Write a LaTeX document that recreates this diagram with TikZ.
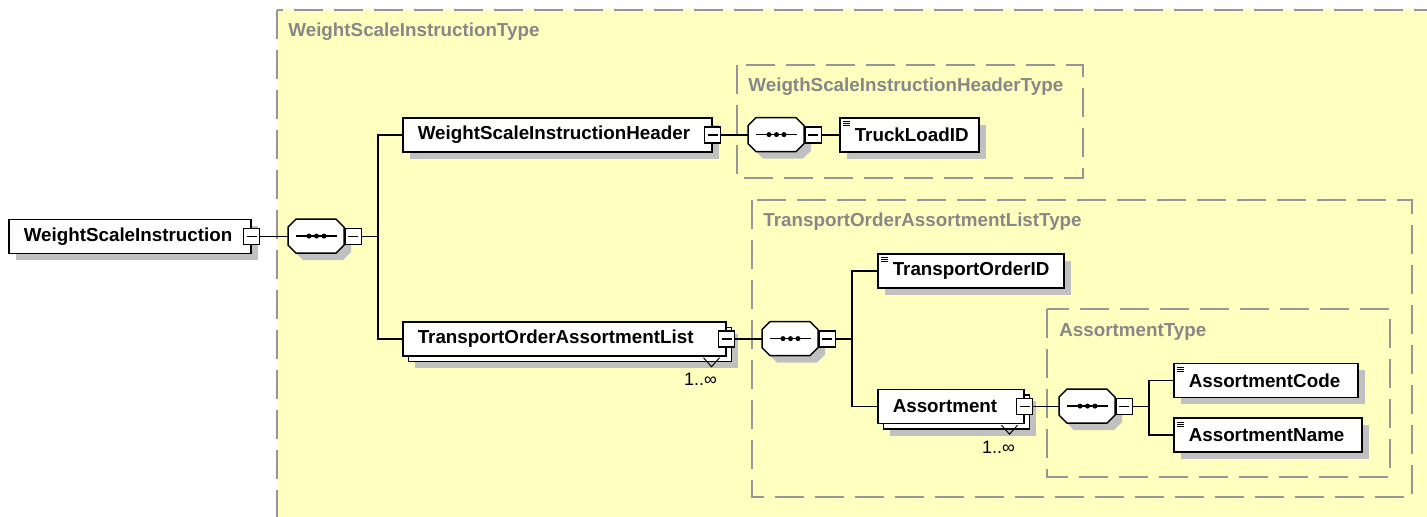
\documentclass[tikz,border=0pt]{standalone}
\usepackage{fontspec}
\setmainfont{Liberation Sans}
\usepackage{tikz}
\usetikzlibrary{calc,shadows}

\definecolor{xsdyellow}{RGB}{255,255,192}
\definecolor{xsdshadow}{RGB}{192,192,192}
\definecolor{xsdgroup}{RGB}{150,150,150}
\definecolor{xsdlabel}{RGB}{135,135,135}

\def\xsdfont{\fontsize{9.4}{11}\selectfont\bfseries}

\tikzset{
	elembase/.style={draw=black, fill=white, line width=0.75pt, anchor=west, minimum height=17pt, inner xsep=7.5pt, inner ysep=0pt, align=left, font=\xsdfont},
	elem/.style={elembase, general shadow={fill=xsdshadow, shadow xshift=3.5pt, shadow yshift=-3.5pt}},
	elemmulti/.style={elembase,
		general shadow={fill=xsdshadow, shadow xshift=6pt, shadow yshift=-6pt},
		general shadow={fill=white, draw=black, line width=0.75pt, shadow xshift=2.75pt, shadow yshift=-2.75pt}},
	leaf/.style={elem, path picture={
		\foreach \k in {4,6,8}
			\draw[line width=0.5pt] ($(path picture bounding box.north west)+(3,\k)$) -- ++(7,0);
	}},
	seq/.style={anchor=west, minimum width=28pt, minimum height=17pt, inner sep=0pt},
	minus/.style={draw=black, fill=white, line width=0.65pt, minimum size=8pt, inner sep=0pt, path picture={
		\draw[line width=0.6pt] ($(path picture bounding box.west)+(3,0)$) -- ($(path picture bounding box.east)+(-3,0)$);
	}},
	wire/.style={line width=0.65pt},
	group/.style={draw=xsdgroup, line width=0.65pt, dash pattern=on 14.5pt off 5.5pt},
	grouplabel/.style={anchor=west, text=xsdlabel, font=\xsdfont, inner sep=0pt},
	occ/.style={font=\fontsize{9}{11}\selectfont, inner sep=0pt}
}

% sequence compositor: octagon with its shadow, the dotted bar and the minus box
\def\seqbox(#1)(#2){
	\node[seq] (#1) at (#2) {};
	\begin{scope}[shift={(#1.north west)}]
		\fill[xsdshadow, shift={(7,7)}] (8,0) -- (48,0) -- (56,8) -- (56,26) -- (48,34) -- (8,34) -- (0,26) -- (0,8) -- cycle;
		\draw[line width=0.75pt, fill=white] (8,0) -- (48,0) -- (56,8) -- (56,26) -- (48,34) -- (8,34) -- (0,26) -- (0,8) -- cycle;
		\draw[line width=0.65pt] (8,17) -- (49,17);
		\foreach \d in {21,28.5,36}
			\fill (\d,17) circle (1.25pt);
	\end{scope}
	\node[minus, anchor=west] (#1-m) at (#1.east) {};
}

\begin{document}
\begin{tikzpicture}[x=0.5pt, y=-0.5pt]
	%%%%% FRAME %%%%%
	\path[use as bounding box, clip] (0,0) rectangle (1427,517);
	\fill[white] (0,0) rectangle (1427,517);
	
	\draw[group, fill=xsdyellow] (277,10) rectangle (1450,540);
	\node[grouplabel] (wsiType) at (288,32) {WeightScaleInstructionType};
	
	\draw[group] (737,65) rectangle (1083,178);
	\node[grouplabel] (hdrType) at (748,87) {WeigthScaleInstructionHeaderType};
	
	\draw[group] (752,200) rectangle (1412,497);
	\node[grouplabel] (listType) at (763,222) {TransportOrderAssortmentListType};
	
	\draw[group] (1047,309) rectangle (1390,477);
	\node[grouplabel] (asrtType) at (1059,332) {AssortmentType};
	
	%%%%% ELEMENTS %%%%%
	\node[elem, text width=106pt] (wsi) at (8,236.5) {WeightScaleInstruction};
	\node[minus] (wsi-m) at (wsi.east) {};
	\seqbox(seqA)(288,236.5)
	
	\node[elem, text width=139.5pt] (hdr) at (402,135) {WeightScaleInstructionHeader};
	\node[minus] (hdr-m) at (hdr.east) {};
	\seqbox(seqB)(748,135)
	\node[leaf, text width=54.5pt] (truck) at (839,135) {TruckLoadID};
	
	\node[elemmulti, text width=146.5pt] (list) at (402,339) {TransportOrderAssortmentList};
	\node[minus] (list-m) at (list.east) {};
	\seqbox(seqC)(762,339)
	\node[leaf, text width=78pt] (toid) at (877,271) {TransportOrderID};
	
	\node[elemmulti, text width=58pt] (asrt) at (877,406.5) {Assortment};
	\node[minus] (asrt-m) at (asrt.east) {};
	\seqbox(seqD)(1059,406.5)
	\node[leaf, text width=77pt] (code) at (1173,380.5) {AssortmentCode};
	\node[leaf, text width=79pt] (name) at (1173,435) {AssortmentName};
	
	% occurrence marks
	\draw[line width=0.5pt] ([shift={(-23,1)}]list.south east) -- ++(8,9) -- ++(8,-9);
	\node[occ] (list-occ) at ([shift={(-26,23)}]list.south east) {1..∞};
	\draw[line width=0.5pt] ([shift={(-23,1)}]asrt.south east) -- ++(8,9) -- ++(8,-9);
	\node[occ] (asrt-occ) at ([shift={(-26,23)}]asrt.south east) {1..∞};
	
	%%%%% WIRES %%%%%
	\draw[wire] (wsi-m.east) -- (seqA.west);
	\draw[wire] (seqA-m.east) -- ++(16,0) |- (hdr.west);
	\draw[wire] (seqA-m.east) -- ++(16,0) |- (list.west);
	\draw[wire] (hdr-m.east) -- (seqB.west);
	\draw[wire] (seqB-m.east) -- (truck.west);
	\draw[wire] (list-m.east) -- (seqC.west);
	\draw[wire] (seqC-m.east) -- ++(16,0) |- (toid.west);
	\draw[wire] (seqC-m.east) -- ++(16,0) |- (asrt.west);
	\draw[wire] (asrt-m.east) -- (seqD.west);
	\draw[wire] (seqD-m.east) -- ++(16,0) |- (code.west);
	\draw[wire] (seqD-m.east) -- ++(16,0) |- (name.west);
\end{tikzpicture}
\end{document}
